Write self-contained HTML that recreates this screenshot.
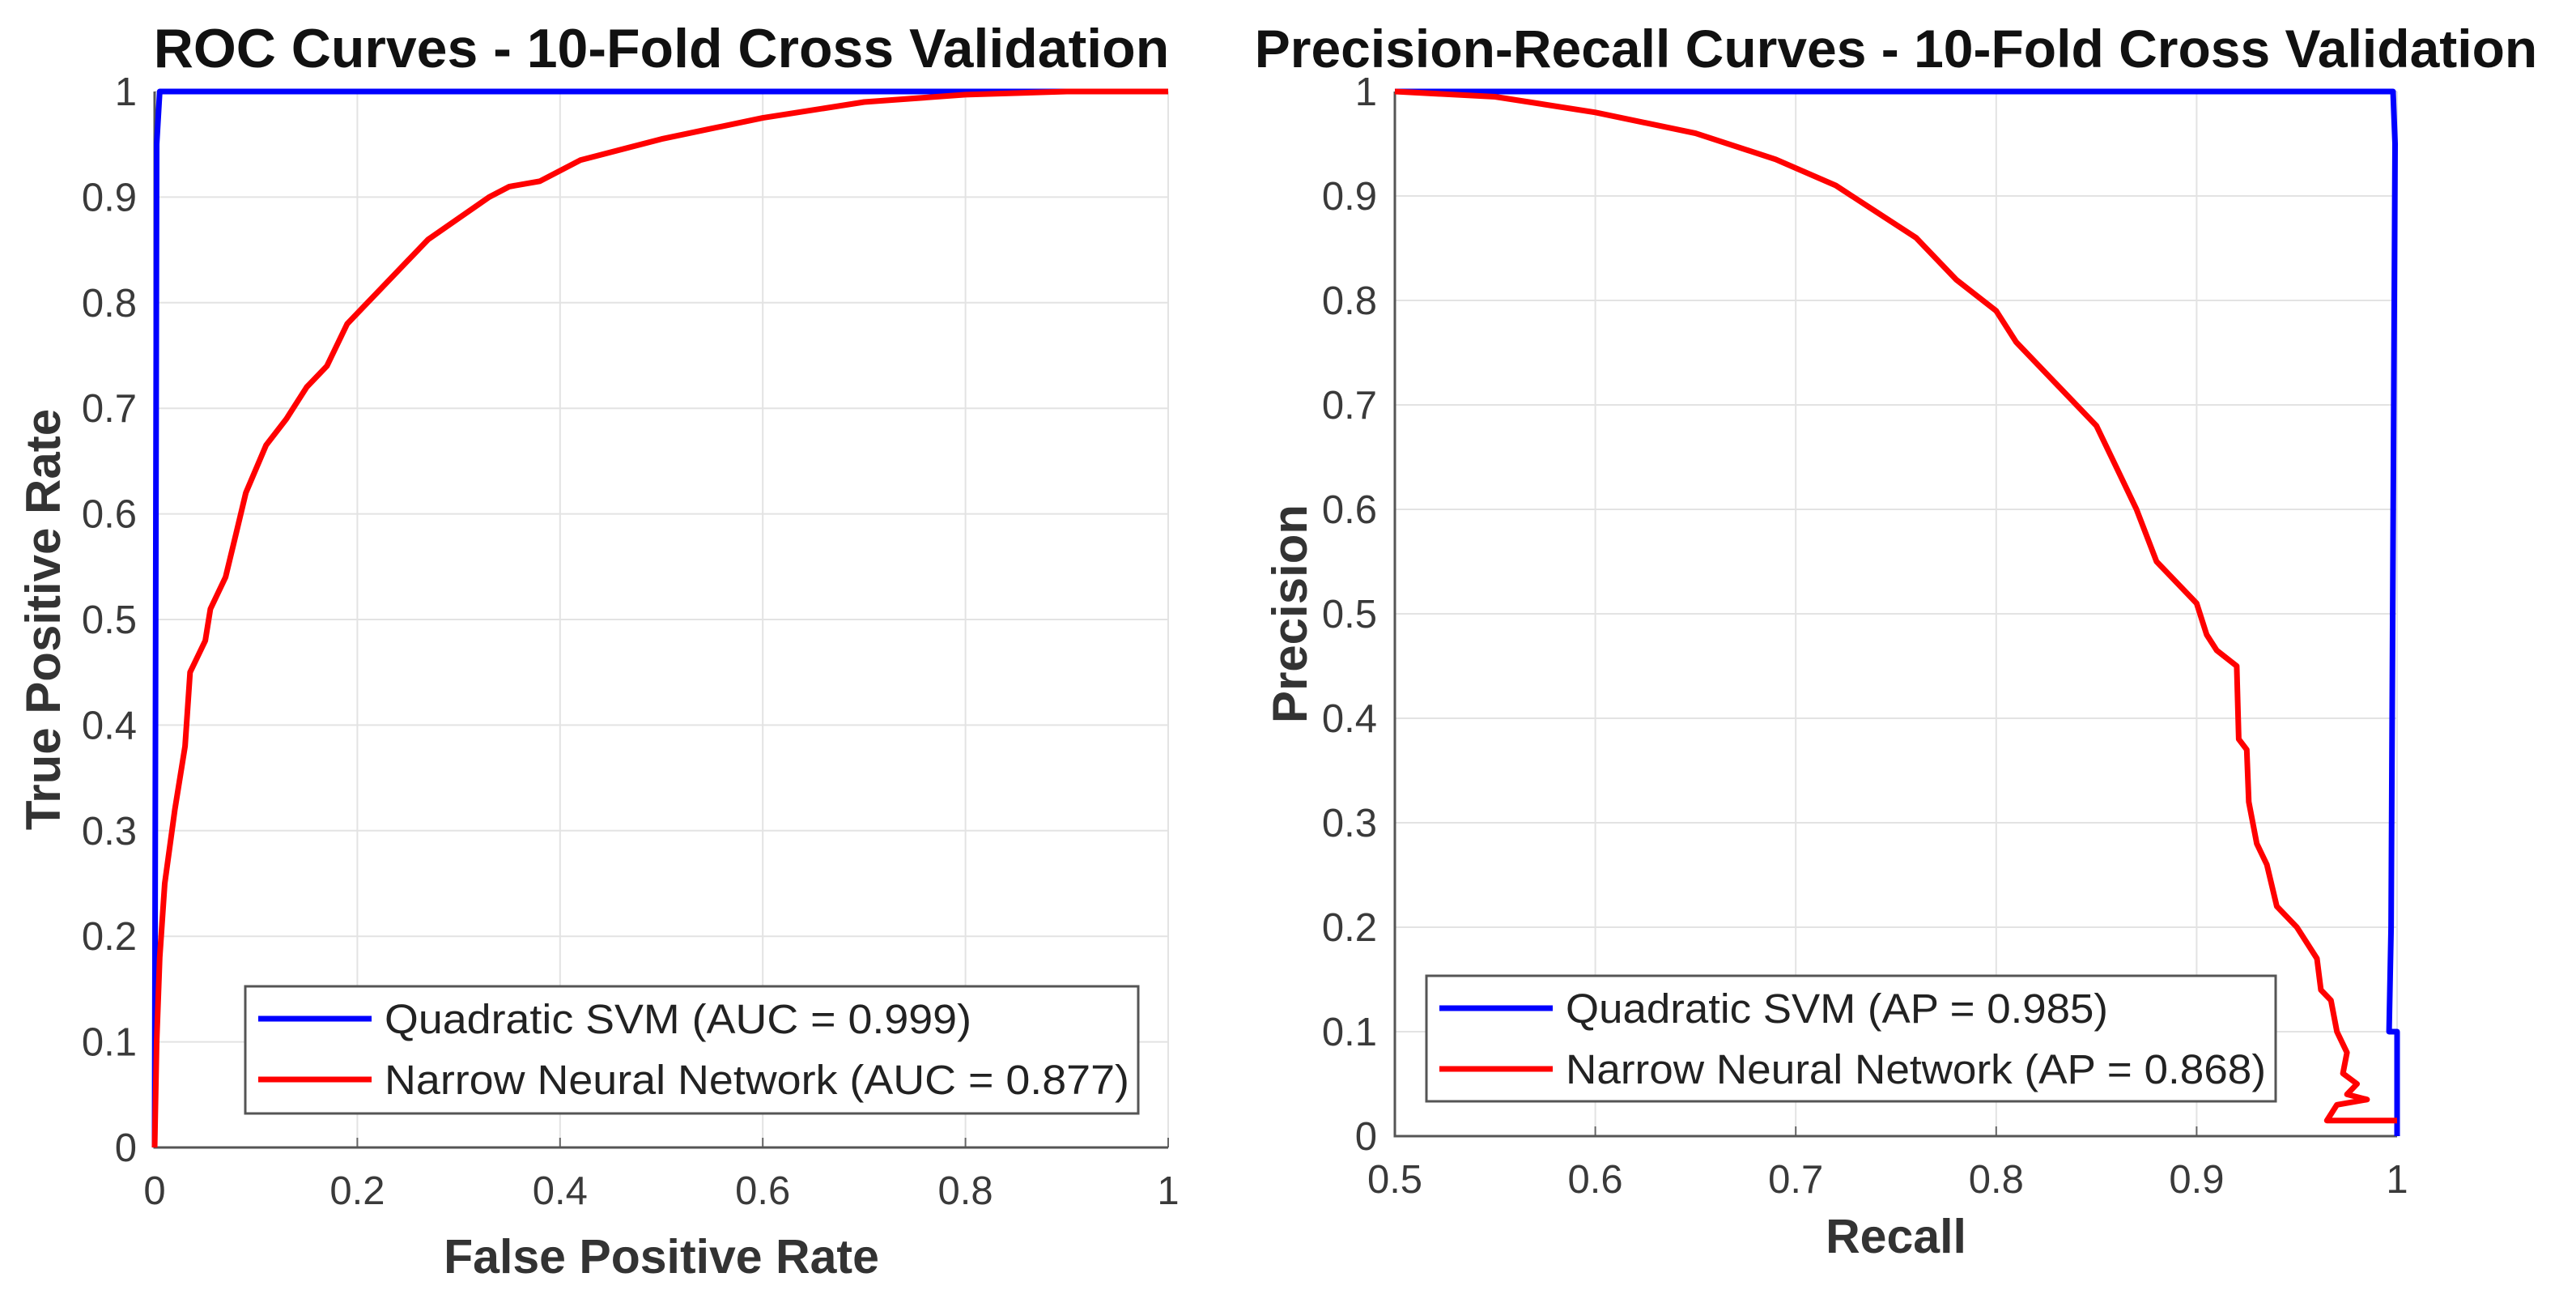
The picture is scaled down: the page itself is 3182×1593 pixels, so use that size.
<!DOCTYPE html>
<html><head><meta charset="utf-8"><style>
html,body{margin:0;padding:0;background:#fff}
svg{display:block;font-family:"Liberation Sans",Arial,sans-serif}
</style></head><body>
<svg id="fig" width="3182" height="1593" viewBox="0 0 3182 1593" xmlns="http://www.w3.org/2000/svg"></svg>
<script>
// ROC data
const rocSvmFpr = [0, 0.002, 0.005, 1];
const rocSvmTpr = [0, 0.95, 1, 1];
const rocNnFpr = [0,0.002,0.005,0.01,0.02,0.03,0.035,0.05,0.055,0.07,0.08,0.09,0.11,0.13,0.15,0.17,0.19,0.21,0.22,0.25,0.27,0.3,0.33,0.35,0.38,0.42,0.5,0.55,0.6,0.7,0.8,0.9,1];
const rocNnTpr = [0,0.1,0.18,0.25,0.32,0.38,0.45,0.48,0.51,0.54,0.58,0.62,0.665,0.69,0.72,0.74,0.78,0.8,0.81,0.84,0.86,0.88,0.9,0.91,0.915,0.935,0.955,0.965,0.975,0.99,0.997,1,1];
// PR data
const prSvmRecall = [0.5,0.998,0.999,0.997,0.996,1,1];
const prSvmPrec = [1,1,0.95,0.2,0.1,0.1,0];
const prNnRecall = [0.5,0.55,0.6,0.65,0.69,0.72,0.76,0.78,0.8,0.81,0.83,0.85,0.86,0.87,0.88,0.9,0.905,0.91,0.92,0.921,0.925,0.926,0.93,0.935,0.94,0.95,0.96,0.962,0.967,0.97,0.975,0.973,0.98,0.975,0.985,0.97,0.965,1];
const prNnPrec = [1,0.995,0.98,0.96,0.935,0.91,0.86,0.82,0.79,0.76,0.72,0.68,0.64,0.6,0.55,0.51,0.48,0.465,0.45,0.38,0.37,0.32,0.28,0.26,0.22,0.2,0.17,0.14,0.13,0.1,0.08,0.06,0.05,0.04,0.035,0.03,0.015,0.015];
const yTicks = ["0","0.1","0.2","0.3","0.4","0.5","0.6","0.7","0.8","0.9","1"];
const rocXTicks = ["0","0.2","0.4","0.6","0.8","1"];
const prXTicks = ["0.5","0.6","0.7","0.8","0.9","1"];

const NS = "http://www.w3.org/2000/svg";
const svg = document.getElementById('fig');
function mk(tag, attrs, parent){const e=document.createElementNS(NS,tag);for(const k in attrs)e.setAttribute(k,attrs[k]);(parent||svg).appendChild(e);return e;}

function panel(o){
  const g = mk('g',{});
  
  
  const sx = v => o.x0 + (v - o.xmin)/(o.xmax-o.xmin)*(o.x1-o.x0);
  const sy = v => o.y0 - v*(o.y0-o.y1);
  o.xTicks.forEach(t=>{const x=sx(parseFloat(t));
    const l=mk('line',{x1:x,x2:x,y1:o.y1,y2:o.y0,stroke:'#e3e3e3','stroke-width':2},g);
    
    
    const tk=mk('line',{x1:x,x2:x,y1:o.y0,y2:o.y0-12,stroke:'#666','stroke-width':2},g);
    
    
    const tx=mk('text',{x:x,y:o.y0+70,'text-anchor':'middle','font-size':49,fill:'#3a3a3a'},g);tx.textContent=t;
    
    
  });
  yTicks.forEach(t=>{const y=sy(parseFloat(t));
    const l=mk('line',{x1:o.x0,x2:o.x1,y1:y,y2:y,stroke:'#e3e3e3','stroke-width':2},g);
    
    
    const tx=mk('text',{x:o.x0-22,y:y+17,'text-anchor':'end','font-size':49,fill:'#3a3a3a'},g);tx.textContent=t;
    
    
  });
  const ax=mk('path',{d:`M${o.x0},${o.y1}V${o.y0}H${o.x1}`,fill:'none',stroke:'#555','stroke-width':3},g);
  
  
  o.series.forEach(s=>{
    const d=s.xs.map((v,i)=>(i?'L':'M')+sx(Math.max(v,o.xmin)).toFixed(1)+','+sy(s.ys[i]).toFixed(1)).join('');
    const p=mk('path',{d:d,fill:'none',stroke:s.color,'stroke-width':7,'stroke-linejoin':'round'},g);
    
    
  });
  const title=mk('text',{x:(o.x0+o.x1)/2,y:o.titleY,'text-anchor':'middle','font-size':o.titleSize,'font-weight':'bold',fill:'#111'},g);title.textContent=o.title;
  
  
  const xl=mk('text',{x:(o.x0+o.x1)/2,y:o.xlabY,'text-anchor':'middle','font-size':59,'font-weight':'bold',fill:'#333'},g);xl.textContent=o.xlab;
  
  
  const yl=mk('text',{x:0,y:0,'text-anchor':'middle','font-size':60,'font-weight':'bold',fill:'#333',transform:`translate(${o.ylabX},${(o.y0+o.y1)/2}) rotate(-90)`},g);yl.textContent=o.ylab;
  
  
  const L=o.leg;
  const lg=mk('g',{},g);
  
  
  mk('rect',{x:L.x,y:L.y,width:L.w,height:L.h,fill:'#fff',stroke:'#555','stroke-width':3},lg);
  o.series.forEach((s,i)=>{
    const yy=L.y+40+i*75;
    const ln=mk('line',{x1:L.x+16,x2:L.x+156,y1:yy,y2:yy,stroke:s.color,'stroke-width':7},lg);
    
    
    const t=mk('text',{x:L.x+172,y:yy+18,'font-size':51,fill:'#222',textLength:L.tl[i],lengthAdjust:'spacingAndGlyphs'},lg);t.textContent=s.label;
    
    
  });
}
panel({name:'roc-chart',x0:191,x1:1443,y0:1417,y1:113,xmin:0,xmax:1,xTicks:rocXTicks,
  title:'ROC Curves - 10-Fold Cross Validation',titleSize:68,titleY:83,xlab:'False Positive Rate',xlabY:1572,ylab:'True Positive Rate',ylabX:74,
  leg:{x:303,y:1218,w:1103,h:157,tl:[725,920]},
  series:[{name:'roc-svm-line',color:'#0000ff',xs:rocSvmFpr,ys:rocSvmTpr,label:'Quadratic SVM (AUC = 0.999)'},
          {name:'roc-nn-line',color:'#ff0000',xs:rocNnFpr,ys:rocNnTpr,label:'Narrow Neural Network (AUC = 0.877)'}]});
panel({name:'pr-chart',x0:1723,x1:2961,y0:1403,y1:113,xmin:0.5,xmax:1,xTicks:prXTicks,
  title:'Precision-Recall Curves - 10-Fold Cross Validation',titleSize:66,titleY:83,xlab:'Recall',xlabY:1547,ylab:'Precision',ylabX:1614,
  leg:{x:1762,y:1205,w:1049,h:155,tl:[670,865]},
  series:[{name:'pr-svm-line',color:'#0000ff',xs:prSvmRecall,ys:prSvmPrec,label:'Quadratic SVM (AP = 0.985)'},
          {name:'pr-nn-line',color:'#ff0000',xs:prNnRecall,ys:prNnPrec,label:'Narrow Neural Network (AP = 0.868)'}]});
</script>
</body></html>
